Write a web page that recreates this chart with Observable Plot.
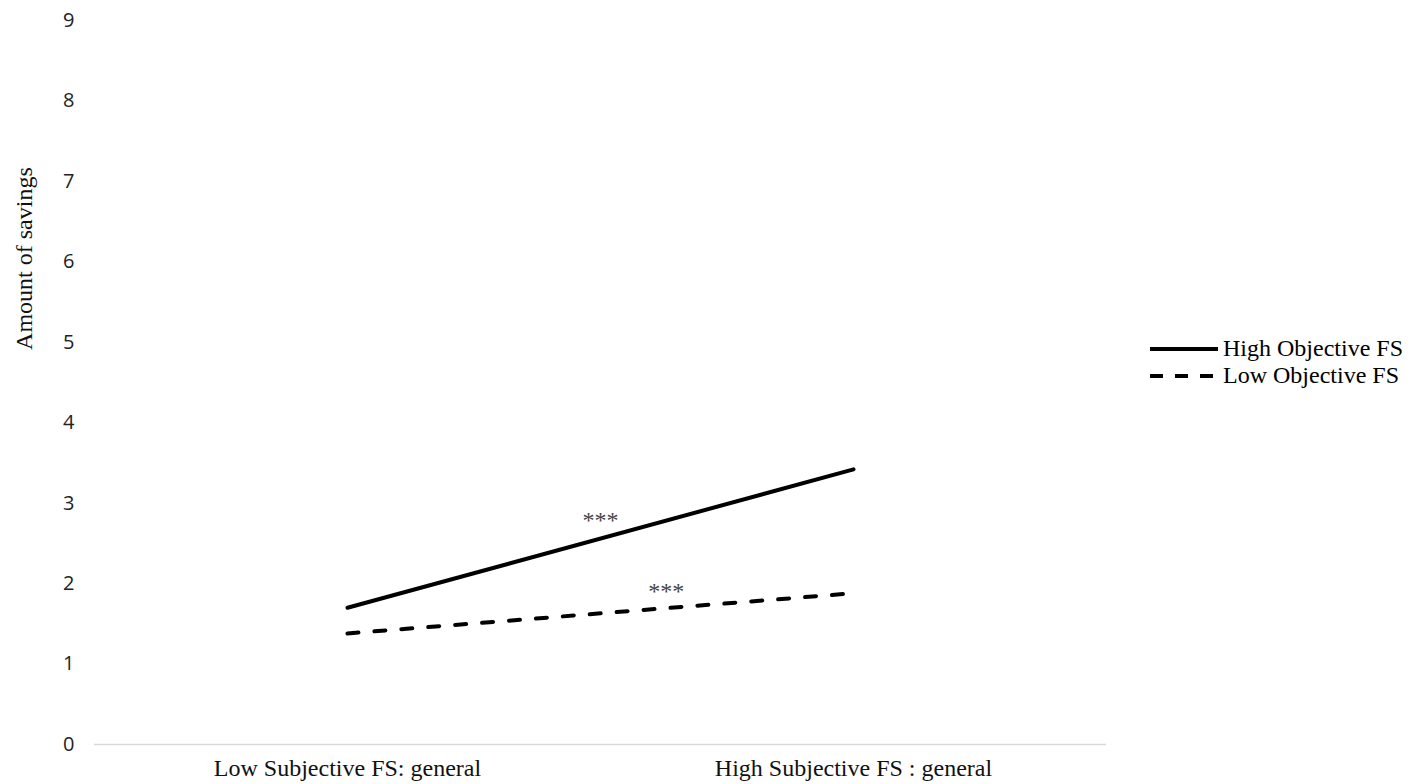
<!DOCTYPE html>
<html>
<head>
<meta charset="utf-8">
<script src="https://cdn.jsdelivr.net/npm/d3@7"></script>
<script src="https://cdn.jsdelivr.net/npm/@observablehq/plot@0.6"></script>
<style>
  html, body { margin: 0; padding: 0; background: #fff; }
  #wrap { position: relative; width: 1419px; height: 784px; }
  #legend { position: absolute; left: 1148px; top: 335px; font-family: "Liberation Serif", "Times New Roman", serif; font-size: 24px; color: #000; }
  #legend .row { display: flex; align-items: center; height: 27px; }
  #legend svg { margin-right: 3px; }
</style>
</head>
<body>
<div id="wrap"><div id="legend"></div></div>
<script>
const categories = ["Low Subjective FS: general", "High Subjective FS : general"];
const seriesNames = ["High Objective FS", "Low Objective FS"];
const highObjective = [1.70, 3.42];
const lowObjective = [1.38, 1.88];
const yTicks = [0, 1, 2, 3, 4, 5, 6, 7, 8, 9];
const annotationText = ["***", "***"];
const annotationX = [0.5, 0.63];
const annotationY = [2.785, 1.91];

const dashes = {"High Objective FS": null, "Low Objective FS": "11,16"};

const rows = [];
[highObjective, lowObjective].forEach((vals, s) => {
  vals.forEach((v, i) => rows.push({series: seriesNames[s], xi: i, value: v}));
});
const notes = annotationText.map((t, i) => ({t, x: annotationX[i], y: annotationY[i]}));

const chart = Plot.plot({
  width: 1419,
  height: 784,
  marginLeft: 94,
  marginRight: 313,
  marginTop: 20,
  marginBottom: 40,
  style: {background: "#fff"},
  x: {domain: [-0.5, 1.5], ticks: [0, 1], tickFormat: i => categories[i], tickSize: 0, tickPadding: 14, label: null},
  y: {domain: [0, 9], ticks: yTicks, tickSize: 0, tickPadding: 20, label: null},
  marks: [
    Plot.axisY({ticks: yTicks, tickSize: 0, tickPadding: 20, label: null, fontSize: 20, fontFamily: "'Open Sans', sans-serif", fill: "#222"}),
    Plot.axisX({ticks: [0, 1], tickFormat: i => categories[i], tickSize: 0, tickPadding: 14, label: null, fontSize: 24, fontFamily: "'Liberation Serif', 'Times New Roman', serif", fill: "#111"}),
    Plot.ruleY([0], {stroke: "#d9d9d9", strokeWidth: 1.5}),
    ...seriesNames.map(name => Plot.line(rows.filter(d => d.series === name), {
      x: "xi", y: "value", stroke: "#000", strokeWidth: 4, strokeLinecap: "round",
      strokeDasharray: dashes[name]
    })),
    Plot.text(notes, {x: "x", y: "y", text: "t", fontSize: 24, fill: "#444", fontFamily: "'Liberation Serif', serif"}),
    Plot.text(["Amount of savings"], {frameAnchor: "left", textAnchor: "middle", y: [6.04], dx: -70, rotate: -90, fontSize: 24, fill: "#111", fontFamily: "'Liberation Serif', 'Times New Roman', serif"})
  ]
});
document.getElementById("wrap").prepend(chart);

const legend = document.getElementById("legend");
seriesNames.forEach(name => {
  const row = document.createElement("div");
  row.className = "row";
  const dash = dashes[name] ? `stroke-dasharray="13,12" stroke-linecap="butt"` : "";
  row.innerHTML = `<svg width="72" height="10"><line x1="2" y1="5" x2="70" y2="5" stroke="#000" stroke-width="4" ${dash}/></svg><span>${name}</span>`;
  legend.appendChild(row);
});
</script>
</body>
</html>
